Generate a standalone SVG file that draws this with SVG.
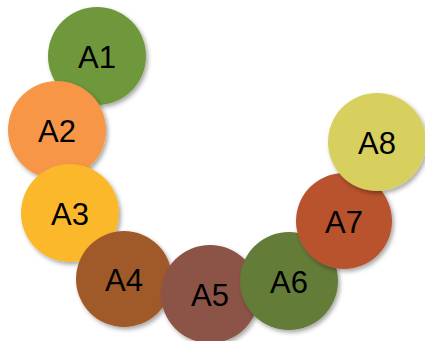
<svg xmlns="http://www.w3.org/2000/svg" width="425" height="341" viewBox="0 0 425 341">
<defs>
<filter id="sh" x="-20%" y="-20%" width="150%" height="150%">
<feDropShadow dx="2" dy="2.5" stdDeviation="2" flood-color="#000" flood-opacity="0.35"/>
</filter>
<style>
circle{filter:url(#sh)}
text{font-family:"Liberation Sans",Arial,sans-serif;font-size:31px;fill:#000;text-anchor:middle}
</style>
</defs>
<rect width="425" height="341" fill="#fff"/>
<g id="A1"><circle cx="97" cy="56" r="49" fill="#6E983A"/><text x="97" y="68">A1</text></g>
<g id="A2"><circle cx="57" cy="130" r="49" fill="#F79646"/><text x="57" y="142">A2</text></g>
<g id="A3"><circle cx="70" cy="213" r="49" fill="#FBB82C"/><text x="70" y="225">A3</text></g>
<g id="A4"><circle cx="124" cy="279" r="48" fill="#A05A2C"/><text x="124" y="291">A4</text></g>
<g id="A5"><circle cx="210" cy="294" r="49" fill="#8C5246"/><text x="210" y="306">A5</text></g>
<g id="A6"><circle cx="289" cy="281" r="49" fill="#637C39"/><text x="289" y="293">A6</text></g>
<g id="A7"><circle cx="344" cy="221" r="48" fill="#B8522F"/><text x="344" y="233">A7</text></g>
<g id="A8"><circle cx="377" cy="142" r="49" fill="#D7D05F"/><text x="377" y="154">A8</text></g>
<g id="connectors"/>
</svg>
